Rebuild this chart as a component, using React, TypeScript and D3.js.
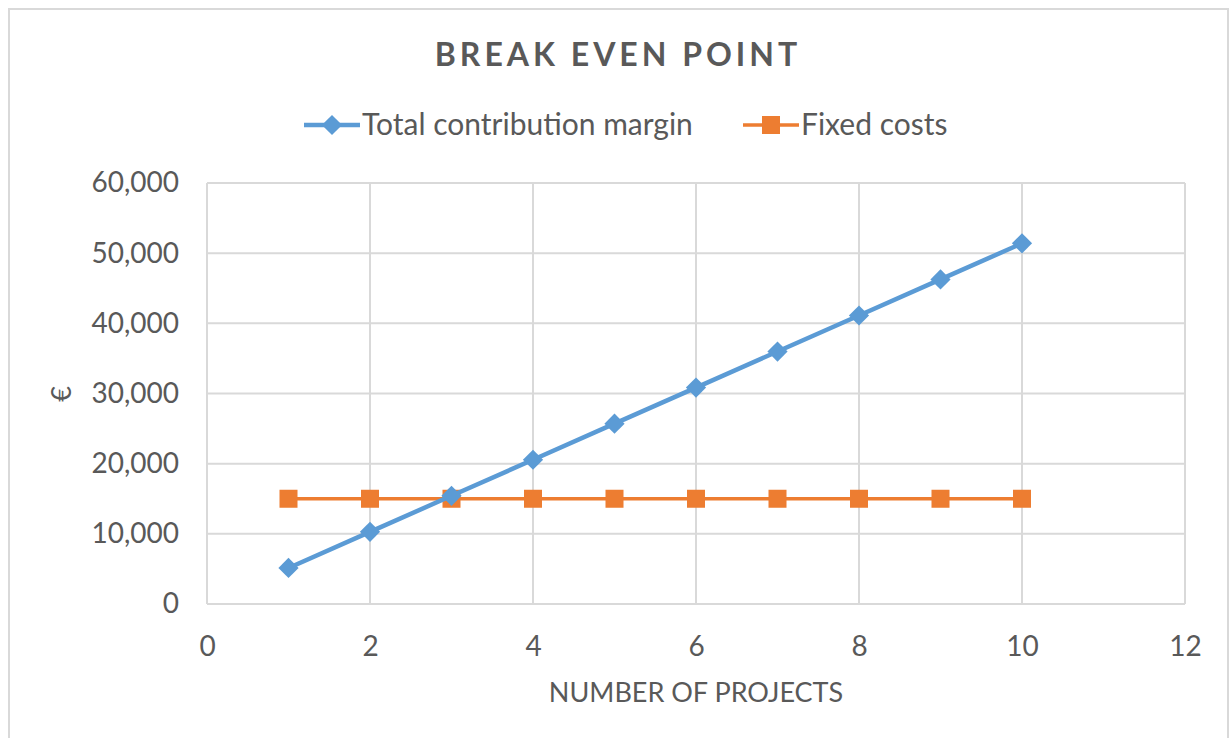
import React, { useRef, useEffect } from "react";
import * as d3 from "d3";

const projects = [1, 2, 3, 4, 5, 6, 7, 8, 9, 10];
const contributionMargin = [5140, 10280, 15420, 20560, 25700, 30840, 35980, 41120, 46260, 51400];
const fixedCosts = [15000, 15000, 15000, 15000, 15000, 15000, 15000, 15000, 15000, 15000];
const xTicks = [0, 2, 4, 6, 8, 10, 12];
const yTicks = [0, 10000, 20000, 30000, 40000, 50000, 60000];

const FONT = "Lato, 'Open Sans', sans-serif";
const TEXT = "#595959";
const GRID = "#d9d9d9";
const BLUE = "#5b9bd5";
const ORANGE = "#ed7d31";

export default function App() {
  const ref = useRef<SVGSVGElement>(null);

  useEffect(() => {
    const width = 1230;
    const height = 738;
    const svg = d3.select(ref.current);
    svg.selectAll("*").remove();
    svg.attr("width", width).attr("height", height);

    // chart frame
    svg.append("rect")
      .attr("x", 9).attr("y", 9)
      .attr("width", 1219).attr("height", 740)
      .attr("fill", "#fff")
      .attr("stroke", GRID)
      .attr("stroke-width", 2);

    const x = d3.scaleLinear().domain([0, 12]).range([207, 1185]);
    const y = d3.scaleLinear().domain([0, 60000]).range([604, 183]);

    const g = svg.append("g");

    // gridlines
    g.selectAll(".hgrid")
      .data(yTicks)
      .enter()
      .append("line")
      .attr("x1", x(0)).attr("x2", x(12))
      .attr("y1", d => y(d)).attr("y2", d => y(d))
      .attr("stroke", GRID).attr("stroke-width", 2);

    g.selectAll(".vgrid")
      .data(xTicks)
      .enter()
      .append("line")
      .attr("x1", d => x(d)).attr("x2", d => x(d))
      .attr("y1", y(0)).attr("y2", y(60000))
      .attr("stroke", GRID).attr("stroke-width", 2);

    // Y axis labels
    const yAxis = svg.append("g")
      .attr("transform", `translate(${x(0)},0)`)
      .call(d3.axisLeft(y).tickValues(yTicks).tickSize(0).tickPadding(28).tickFormat(d3.format(",")));
    yAxis.select(".domain").remove();
    yAxis.selectAll("text")
      .style("fill", TEXT)
      .style("font-family", FONT)
      .style("font-size", "28px");

    // X axis labels
    const xAxis = svg.append("g")
      .attr("transform", `translate(0,${y(0)})`)
      .call(d3.axisBottom(x).tickValues(xTicks).tickSize(0).tickPadding(32));
    xAxis.select(".domain").remove();
    xAxis.selectAll("text")
      .style("fill", TEXT)
      .style("font-family", FONT)
      .style("font-size", "28px");

    // Fixed costs
    const line = d3.line<number>()
      .x((_, i) => x(projects[i]));

    g.append("path")
      .datum(fixedCosts)
      .attr("fill", "none")
      .attr("stroke", ORANGE)
      .attr("stroke-width", 3.5)
      .attr("d", line.y(d => y(d)));

    g.selectAll(".sq")
      .data(fixedCosts)
      .enter()
      .append("rect")
      .attr("x", (_, i) => x(projects[i]) - 9)
      .attr("y", d => y(d) - 9)
      .attr("width", 18).attr("height", 18)
      .attr("fill", ORANGE);

    // Total contribution margin
    g.append("path")
      .datum(contributionMargin)
      .attr("fill", "none")
      .attr("stroke", BLUE)
      .attr("stroke-width", 4.5)
      .attr("d", line.y(d => y(d)));

    const diamond = d3.symbol().type(d3.symbolDiamond2).size(260);
    g.selectAll(".dia")
      .data(contributionMargin)
      .enter()
      .append("path")
      .attr("d", diamond)
      .attr("transform", (d, i) => `translate(${x(projects[i])},${y(d)})`)
      .attr("fill", BLUE);

    // title
    svg.append("text")
      .attr("x", 618).attr("y", 66)
      .attr("text-anchor", "middle")
      .style("font-family", FONT)
      .style("font-weight", "bold")
      .style("font-size", "32px")
      .style("letter-spacing", "4px")
      .style("fill", TEXT)
      .text("BREAK EVEN POINT");

    // legend
    const legend = [
      { name: "Total contribution margin", color: BLUE, x0: 304, shape: "diamond" },
      { name: "Fixed costs", color: ORANGE, x0: 743, shape: "square" }
    ];
    const lg = svg.append("g");
    legend.forEach(l => {
      lg.append("line")
        .attr("x1", l.x0).attr("x2", l.x0 + 56)
        .attr("y1", 125).attr("y2", 125)
        .attr("stroke", l.color)
        .attr("stroke-width", l.shape === "diamond" ? 4.5 : 3.5);
      if (l.shape === "diamond") {
        lg.append("path")
          .attr("d", diamond)
          .attr("transform", `translate(${l.x0 + 28},125)`)
          .attr("fill", l.color);
      } else {
        lg.append("rect")
          .attr("x", l.x0 + 19).attr("y", 116)
          .attr("width", 18).attr("height", 18)
          .attr("fill", l.color);
      }
      lg.append("text")
        .attr("x", l.x0 + 58).attr("y", 135)
        .style("font-family", FONT)
        .style("font-size", "30px")
        .style("fill", TEXT)
        .text(l.name);
    });

    // axis titles
    svg.append("text")
      .attr("x", x(6)).attr("y", 702)
      .attr("text-anchor", "middle")
      .style("font-family", FONT)
      .style("font-size", "27px")
      .style("fill", TEXT)
      .text("NUMBER OF PROJECTS");

    svg.append("text")
      .attr("transform", "translate(71,394) rotate(-90)")
      .attr("text-anchor", "middle")
      .style("font-family", FONT)
      .style("font-size", "27px")
      .style("fill", TEXT)
      .text("€");
  }, []);

  return (
    <div style={{ position: "absolute", left: 0, top: 0 }}>
      <svg ref={ref}></svg>
    </div>
  );
}
